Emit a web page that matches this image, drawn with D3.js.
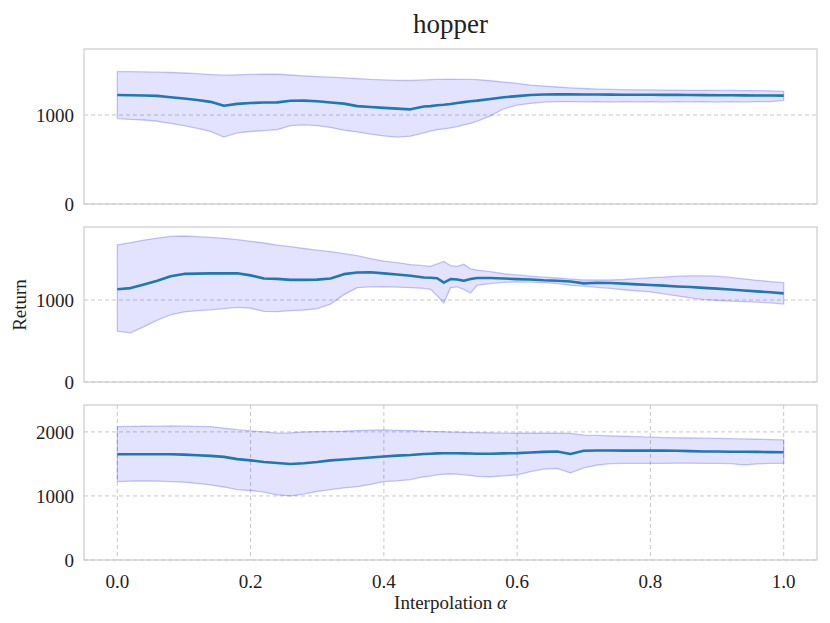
<!DOCTYPE html>
<html>
<head>
<meta charset="utf-8">
<script src="https://cdn.jsdelivr.net/npm/d3@7"></script>
<style>
  html, body { margin: 0; padding: 0; background: #fff; }
  svg text { font-family: "Liberation Serif", "Times New Roman", serif; fill: #222; }
</style>
</head>
<body>
<svg id="chart" width="830" height="623"></svg>
<script>
// ---------- data ----------
const title = "hopper";
const xLabel = "Interpolation ";
const yLabel = "Return";
const xTicks = [0.0, 0.2, 0.4, 0.6, 0.8, 1.0];
const yTicks1 = [0, 1000];
const yTicks2 = [0, 1000];
const yTicks3 = [0, 1000, 2000];

const alpha = [0.00,0.02,0.04,0.06,0.08,0.10,0.12,0.14,0.16,0.18,0.20,0.22,0.24,0.26,0.28,0.30,0.32,0.34,0.36,0.38,0.40,0.42,0.44,0.46,
  0.47,0.48,0.49,0.50,0.51,0.52,0.53,0.54,
  0.56,0.58,0.60,0.62,0.64,0.66,0.68,0.70,0.72,0.74,0.76,0.78,0.80,0.82,0.84,0.86,0.88,0.90,0.92,0.94,0.96,0.98,1.00];

// panel 1
const mean1 = [1225,1222,1220,1215,1200,1185,1168,1148,1105,1125,1135,1140,1142,1160,1162,1155,1140,1128,1100,1090,1080,1072,1064,1095,
  1100,1110,1115,1124,1135,1145,1155,1162,
  1180,1200,1212,1225,1230,1232,1232,1230,1230,1229,1228,1228,1227,1226,1226,1225,1224,1223,1222,1221,1220,1219,1218];
const upper1 = [1487,1487,1485,1482,1478,1472,1465,1455,1448,1452,1456,1458,1460,1450,1440,1432,1425,1418,1410,1400,1395,1390,1388,1395,
  1398,1400,1401,1402,1401,1400,1400,1398,
  1385,1370,1355,1337,1325,1315,1305,1298,1292,1288,1285,1283,1282,1280,1280,1278,1278,1276,1276,1275,1275,1272,1265];
const lower1 = [960,950,944,930,905,880,850,815,752,800,815,825,835,880,890,880,860,830,810,785,765,752,762,800,
  820,835,845,855,870,888,905,930,
  990,1070,1112,1130,1145,1150,1150,1148,1150,1146,1150,1148,1150,1145,1150,1148,1150,1146,1150,1148,1150,1150,1165];

// panel 2
const mean2 = [1130,1145,1190,1235,1290,1318,1322,1325,1325,1325,1300,1262,1258,1245,1245,1248,1262,1315,1335,1338,1325,1310,1295,1275,
  1272,1265,1212,1255,1250,1235,1255,1268,
  1268,1262,1255,1250,1240,1235,1225,1203,1210,1208,1200,1190,1182,1175,1165,1158,1148,1138,1128,1116,1105,1094,1081];
const upper2 = [1671,1700,1730,1755,1775,1780,1772,1764,1752,1735,1715,1695,1670,1650,1628,1608,1590,1565,1540,1505,1475,1455,1432,1418,
  1410,1440,1470,1420,1410,1435,1380,1365,
  1345,1320,1305,1290,1278,1268,1255,1244,1244,1244,1250,1260,1272,1280,1290,1295,1295,1290,1275,1258,1240,1225,1211];
const lower2 = [620,600,675,755,820,855,870,880,895,910,900,860,858,870,878,895,950,1065,1150,1160,1162,1158,1150,1142,
  1130,1050,963,1150,1160,1130,1085,1180,
  1200,1215,1222,1218,1212,1200,1180,1168,1155,1142,1125,1110,1098,1075,1050,1025,1005,995,985,980,975,965,950];

// panel 3
const mean3 = [1651,1650,1652,1650,1651,1645,1635,1625,1610,1575,1555,1530,1515,1500,1510,1530,1555,1570,1585,1600,1615,1630,1640,1655,
  1660,1665,1667,1667,1667,1665,1663,1660,
  1660,1665,1668,1678,1688,1693,1655,1705,1710,1710,1708,1708,1708,1708,1705,1700,1695,1693,1690,1690,1688,1685,1682];
const upper3 = [2083,2085,2088,2090,2094,2090,2085,2083,2060,2035,2015,2000,1980,1985,2000,2005,2008,2010,2020,2028,2031,2025,2020,2010,
  2008,2005,2003,1995,1995,1993,1990,1990,
  1985,1980,1979,1979,1979,1979,1978,1950,1945,1938,1932,1925,1917,1912,1908,1905,1902,1900,1895,1890,1885,1880,1875];
const lower3 = [1224,1230,1234,1230,1225,1215,1195,1172,1140,1100,1085,1060,1016,1000,1030,1070,1100,1125,1145,1180,1224,1235,1255,1300,
  1310,1330,1340,1344,1340,1330,1320,1305,
  1300,1315,1328,1380,1420,1430,1360,1440,1480,1505,1510,1510,1510,1510,1512,1512,1510,1510,1505,1485,1500,1510,1510];

const yMax = [1742, 1890, 2420];

// ---------- layout ----------
const svg = d3.select("#chart");
const left = 84, right = 817, panelH = 155;
const tops = [49, 227, 405];
const x = d3.scaleLinear().domain([-0.05, 1.05]).range([left, right]);

const panels = [
  {mean: mean1, upper: upper1, lower: lower1, ticks: yTicks1, vgrid: false},
  {mean: mean2, upper: upper2, lower: lower2, ticks: yTicks2, vgrid: false},
  {mean: mean3, upper: upper3, lower: lower3, ticks: yTicks3, vgrid: true}
];

panels.forEach((p, i) => {
  const top = tops[i];
  const y = d3.scaleLinear().domain([0, yMax[i]]).range([top + panelH, top]);
  const g = svg.append("g");

  // grid
  p.ticks.forEach(t => {
    g.append("line")
      .attr("x1", left).attr("x2", right)
      .attr("y1", y(t)).attr("y2", y(t))
      .attr("stroke", "#c8c8c8").attr("stroke-width", 1)
      .attr("stroke-dasharray", "4,3");
  });
  if (p.vgrid) {
    xTicks.forEach(t => {
      g.append("line")
        .attr("x1", x(t)).attr("x2", x(t))
        .attr("y1", top).attr("y2", top + panelH)
        .attr("stroke", "#c8c8c8").attr("stroke-width", 1)
        .attr("stroke-dasharray", "4,3");
    });
  }

  const idx = d3.range(alpha.length);
  const area = d3.area()
    .x(k => x(alpha[k]))
    .y0(k => y(p.lower[k]))
    .y1(k => y(p.upper[k]));
  g.append("path").datum(idx)
    .attr("d", area)
    .attr("fill", "rgba(0,0,255,0.11)")
    .attr("stroke", "rgba(0,0,255,0.22)")
    .attr("stroke-width", 1.3);

  const line = d3.line()
    .x(k => x(alpha[k]))
    .y(k => y(p.mean[k]));
  g.append("path").datum(idx)
    .attr("d", line)
    .attr("fill", "none")
    .attr("stroke", "#1f77b4")
    .attr("stroke-width", 2.6)
    .attr("stroke-linejoin", "round");

  // frame
  g.append("rect")
    .attr("x", left).attr("y", top)
    .attr("width", right - left).attr("height", panelH)
    .attr("fill", "none").attr("stroke", "#cccccc").attr("stroke-width", 1.2);

  // y tick labels
  p.ticks.forEach(t => {
    g.append("text")
      .attr("x", left - 10).attr("y", y(t))
      .attr("dy", "0.35em")
      .attr("text-anchor", "end")
      .attr("font-size", 19)
      .text(d3.format("d")(t));
  });

  if (i === 2) {
    xTicks.forEach(t => {
      g.append("text")
        .attr("x", x(t)).attr("y", top + panelH + 28)
        .attr("text-anchor", "middle")
        .attr("font-size", 19)
        .text(d3.format(".1f")(t));
    });
  }
});

// title
svg.append("text")
  .attr("x", (left + right) / 2).attr("y", 33)
  .attr("text-anchor", "middle")
  .attr("font-size", 27)
  .text(title);

// x label
const xl = svg.append("text")
  .attr("x", (left + right) / 2).attr("y", 609)
  .attr("text-anchor", "middle")
  .attr("font-size", 19);
xl.append("tspan").text(xLabel);
xl.append("tspan").attr("font-style", "italic").text("α");

// y label
svg.append("text")
  .attr("transform", "translate(26,305) rotate(-90)")
  .attr("text-anchor", "middle")
  .attr("font-size", 19)
  .text(yLabel);
</script>
</body>
</html>
